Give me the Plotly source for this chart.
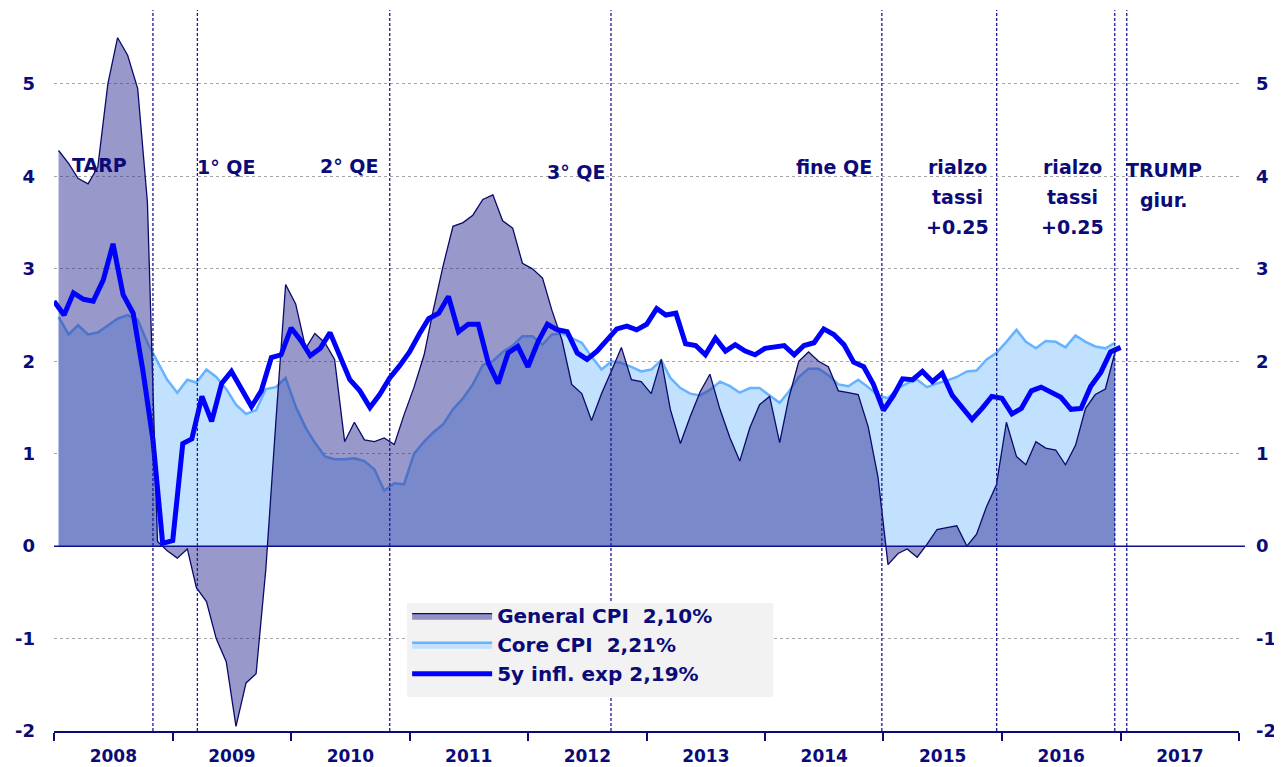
import pandas as pd
import plotly.graph_objects as go

# ---------------- data ----------------
general_cpi = [4.28, 4.14, 3.98, 3.92, 4.10, 5.00, 5.50, 5.31, 4.95, 3.72, 0.05, -0.05,
               -0.13, -0.03, -0.45, -0.60, -1.00, -1.25, -1.95, -1.48, -1.38, -0.25, 1.35, 2.83,
               2.62, 2.14, 2.30, 2.20, 2.02, 1.13, 1.34, 1.15, 1.13, 1.17, 1.10, 1.42,
               1.72, 2.07, 2.55, 3.04, 3.46, 3.50, 3.58, 3.75, 3.80, 3.52, 3.44, 3.06,
               3.00, 2.90, 2.55, 2.23, 1.75, 1.65, 1.36, 1.65, 1.90, 2.15, 1.80, 1.78,
               1.65, 2.02, 1.48, 1.11, 1.40, 1.67, 1.86, 1.48, 1.17, 0.92, 1.28, 1.53,
               1.62, 1.12, 1.60, 2.00, 2.10, 2.00, 1.94, 1.68, 1.66, 1.64, 1.29, 0.75,
               -0.20, -0.08, -0.03, -0.12, 0.02, 0.18, 0.20, 0.22, 0.00, 0.13, 0.43, 0.66,
               1.34, 0.97, 0.88, 1.13, 1.06, 1.04, 0.88, 1.09, 1.49, 1.64, 1.70, 2.10]

core_cpi = [2.48, 2.29, 2.39, 2.29, 2.31, 2.39, 2.46, 2.50, 2.45, 2.20, 2.00, 1.80,
            1.66, 1.80, 1.77, 1.91, 1.83, 1.70, 1.53, 1.43, 1.47, 1.70, 1.72, 1.82,
            1.51, 1.28, 1.12, 0.97, 0.94, 0.94, 0.95, 0.92, 0.83, 0.60, 0.68, 0.67,
            1.00, 1.13, 1.23, 1.32, 1.48, 1.60, 1.75, 1.96, 2.00, 2.10, 2.17, 2.27,
            2.27, 2.18, 2.29, 2.30, 2.25, 2.20, 2.05, 1.91, 2.00, 1.98, 1.94, 1.89,
            1.91, 2.01, 1.82, 1.71, 1.65, 1.63, 1.69, 1.78, 1.73, 1.66, 1.71, 1.71,
            1.63, 1.55, 1.67, 1.83, 1.92, 1.92, 1.85, 1.75, 1.73, 1.80, 1.72, 1.63,
            1.60, 1.71, 1.76, 1.80, 1.72, 1.76, 1.79, 1.83, 1.89, 1.90, 2.02, 2.09,
            2.21, 2.34, 2.21, 2.14, 2.22, 2.21, 2.15, 2.28, 2.21, 2.16, 2.14, 2.20]

infl_exp_5y = [2.65, 2.50, 2.74, 2.67, 2.65, 2.88, 3.27, 2.72, 2.52, 1.90, 1.15, 0.03,
               0.06, 1.11, 1.16, 1.62, 1.35, 1.76, 1.89, 1.71, 1.51, 1.68, 2.04, 2.07,
               2.36, 2.22, 2.06, 2.14, 2.31, 2.05, 1.80, 1.68, 1.50, 1.64, 1.82, 1.95,
               2.10, 2.30, 2.46, 2.52, 2.70, 2.32, 2.40, 2.40, 1.98, 1.76, 2.09, 2.16,
               1.94, 2.21, 2.40, 2.34, 2.32, 2.09, 2.02, 2.11, 2.23, 2.35, 2.38, 2.34,
               2.40, 2.57, 2.50, 2.52, 2.19, 2.17, 2.07, 2.25, 2.11, 2.18, 2.11, 2.07,
               2.14, 2.15, 2.17, 2.07, 2.17, 2.20, 2.35, 2.29, 2.18, 1.99, 1.94, 1.75,
               1.47, 1.63, 1.81, 1.80, 1.89, 1.78, 1.87, 1.63, 1.49, 1.37, 1.49, 1.62,
               1.60, 1.43, 1.49, 1.68, 1.72, 1.67, 1.61, 1.48, 1.49, 1.73, 1.88, 2.10,
               2.15]

cpi_dates = pd.date_range("2008-01-01", periods=len(general_cpi), freq="MS") + pd.Timedelta(days=14)
exp_dates = pd.date_range("2008-01-01", periods=len(infl_exp_5y), freq="MS")

event_dates = ["2008-11-01", "2009-03-18", "2010-11-01", "2012-09-13",
               "2014-12-27", "2015-12-16", "2016-12-14", "2017-01-20"]

# annotation texts: (x date, list of lines, y of first line)
event_labels = [
    ("2008-05-20", ["TARP"], 4.12),
    ("2009-06-13", ["1° QE"], 4.10),
    ("2010-06-27", ["2° QE"], 4.11),
    ("2012-05-27", ["3° QE"], 4.05),
    ("2014-07-31", ["fine QE"], 4.10),
    ("2015-08-17", ["rialzo", "tassi", "+0.25"], 4.10),
    ("2016-08-06", ["rialzo", "tassi", "+0.25"], 4.10),
    ("2017-05-16", ["TRUMP", "giur."], 4.07),
]

legend_names = ["General CPI\u00a0\u00a02,10%", "Core CPI\u00a0\u00a02,21%", "5y infl. exp 2,19%"]
y_ticks = [-2, -1, 0, 1, 2, 3, 4, 5]

# ---------------- style ----------------
NAVY = "#0B0B78"
FONT = "DejaVu Sans"
y_range = [-2, 5.8]

fig = go.Figure()

fig.add_trace(go.Scatter(
    x=cpi_dates, y=core_cpi, name=legend_names[1], mode="lines",
    fill="tozeroy", fillcolor="#C2E1FF",
    line=dict(color="#66B3FF", width=2.5), legendrank=2, hoverinfo="skip"))

fig.add_trace(go.Scatter(
    x=cpi_dates, y=general_cpi, name=legend_names[0], mode="lines",
    fill="tozeroy", fillcolor="rgba(50,50,150,0.5)",
    line=dict(color="#0A0A6A", width=1.3), legendrank=1, hoverinfo="skip"))

fig.add_trace(go.Scatter(
    x=exp_dates, y=infl_exp_5y, name=legend_names[2], mode="lines",
    line=dict(color="#0000FF", width=5), legendrank=3, hoverinfo="skip"))

# invisible companion trace so the right-hand axis is drawn
fig.add_trace(go.Scatter(
    x=exp_dates, y=infl_exp_5y, yaxis="y2", mode="lines",
    line=dict(width=0), opacity=0, showlegend=False, hoverinfo="skip"))

shapes = []
for d in event_dates:
    shapes.append(dict(type="line", xref="x", yref="paper", x0=d, x1=d, y0=0, y1=1,
                       line=dict(color="#1A1A9A", width=1.3, dash="3px,2px"), layer="above"))
# zero line on top of the fills
shapes.append(dict(type="line", xref="paper", yref="y", x0=0, x1=1.005, y0=0, y1=0,
                   line=dict(color="#10108A", width=1.5), layer="above"))
# legend background box
shapes.append(dict(type="rect", xref="paper", yref="paper", x0=0.298, x1=0.607,
                   y0=0.047, y1=0.1775, fillcolor="#F2F2F2", line=dict(width=0), layer="above"))

annotations = []
for x, lines, y0 in event_labels:
    for k, t in enumerate(lines):
        annotations.append(dict(x=x, y=y0 - k * 0.325, xref="x", yref="y", text=t,
                                showarrow=False, xanchor="center", yanchor="middle",
                                font=dict(family=FONT, size=19, color=NAVY, weight="bold")))

tickfont = dict(family=FONT, size=18, color=NAVY, weight="bold")

# the page places the figure 8px from the top-left corner
fig.update_layout(
    width=1274, height=759,
    margin=dict(l=46, r=43, t=2, b=36, autoexpand=False),
    paper_bgcolor="white", plot_bgcolor="white",
    showlegend=True,
    legend=dict(x=0.298, y=0.187, xanchor="left", yanchor="top",
                bgcolor="rgba(0,0,0,0)", itemwidth=80, traceorder="normal",
                font=dict(family=FONT, size=20, color=NAVY, weight="bold")),
    xaxis=dict(type="date", range=["2008-01-01", "2018-01-01"],
               tick0="2008-01-01", dtick="M12", tickformat="%Y", ticklabelmode="period",
               ticks="outside", ticklen=8, tickcolor=NAVY, tickwidth=1.5,
               showline=True, linecolor=NAVY, linewidth=1.5, showgrid=False,
               zeroline=False, tickfont=dict(family=FONT, size=17, color=NAVY, weight="bold"),
               ticklabelstandoff=1),
    yaxis=dict(range=y_range, tickvals=y_ticks, ticktext=[str(v) for v in y_ticks],
               showgrid=True, gridcolor="#A6A6A6", griddash="dot", gridwidth=1,
               zeroline=False, showline=False, ticks="", tickfont=tickfont,
               ticklabelstandoff=18),
    yaxis2=dict(range=y_range, tickvals=y_ticks, ticktext=[str(v) for v in y_ticks],
                overlaying="y", side="right", showgrid=False, zeroline=False,
                showline=False, ticks="", tickfont=tickfont, ticklabelstandoff=16),
    shapes=shapes, annotations=annotations,
)

fig.write_html("out.html")
